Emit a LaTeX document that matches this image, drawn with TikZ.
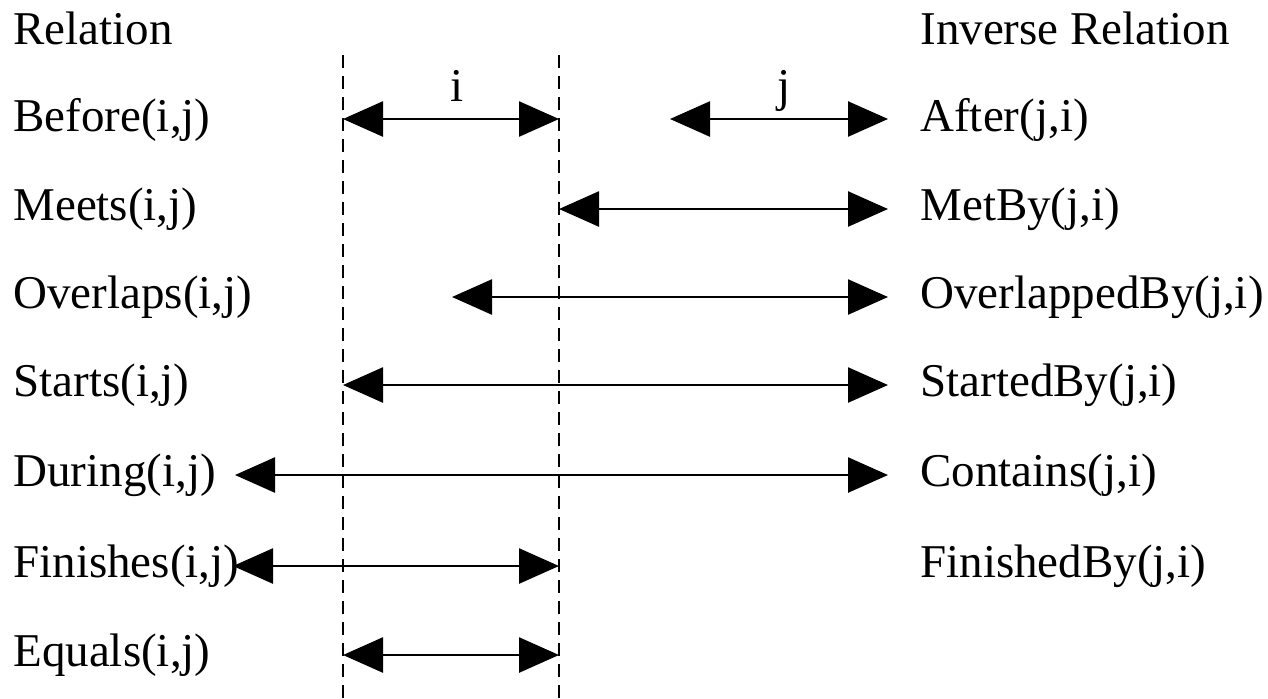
\documentclass[tikz,border=0pt]{standalone}
\usepackage{fontspec}
\setmainfont{Liberation Serif}
\usetikzlibrary{arrows.meta}
\begin{document}
\begin{tikzpicture}[x=0.5pt,y=-0.5pt,
  lbl/.style={anchor=west,inner sep=0pt,font=\fontsize{23.5}{28}\selectfont},
  tag/.style={anchor=base,inner sep=0pt,font=\fontsize{23.5}{28}\selectfont},
  ivl/.style={line width=1.3pt,{Triangle[length=20pt,width=17.5pt]}-{Triangle[length=20pt,width=17.5pt]}},
  guide/.style={line width=1pt,dash pattern=on 6.5pt off 4pt}]
\useasboundingbox (0,0) rectangle (1268,698);
% headers
\node[lbl] (rel) at (13,28) {Relation};
\node[lbl] (inv) at (920,28) {Inverse Relation};
% left labels
\node[lbl] (before) at (13,120) {Before(i,j)};
\node[lbl] (meets) at (13,209) {Meets(i,j)};
\node[lbl] (overlaps) at (13,297) {Overlaps(i,j)};
\node[lbl] (starts) at (13,385) {Starts(i,j)};
\node[lbl] (during) at (13,475) {During(i,j)};
\node[lbl] (finishes) at (13,566) {Finishes(i,j)};
\node[lbl] (equals) at (13,655) {Equals(i,j)};
% right labels
\node[lbl] (after) at (920,120) {After(j,i)};
\node[lbl] (metby) at (920,209) {MetBy(j,i)};
\node[lbl] (overby) at (920,297) {OverlappedBy(j,i)};
\node[lbl] (startedby) at (920,385) {StartedBy(j,i)};
\node[lbl] (contains) at (920,475) {Contains(j,i)};
\node[lbl] (finishedby) at (920,566) {FinishedBy(j,i)};
% guides
\coordinate (g1t) at (343,55); \coordinate (g1b) at (343,698);
\coordinate (g2t) at (559,55); \coordinate (g2b) at (559,698);
\draw[guide] (g1t) -- (g1b);
\draw[guide] (g2t) -- (g2b);
% interval labels
\node[tag] (ilab) at (457,101) {i};
\node[tag] (jlab) at (784,101) {j};
% intervals
\coordinate (bi1) at (343,119); \coordinate (bi2) at (559,119);
\coordinate (bj1) at (670,119); \coordinate (bj2) at (888,119);
\coordinate (m1) at (559,209); \coordinate (m2) at (888,209);
\coordinate (o1) at (452,297); \coordinate (o2) at (888,297);
\coordinate (s1) at (343,385); \coordinate (s2) at (888,385);
\coordinate (d1) at (235,475); \coordinate (d2) at (888,475);
\coordinate (f1) at (233,566); \coordinate (f2) at (559,566);
\coordinate (e1) at (343,655); \coordinate (e2) at (559,655);
\draw[ivl] (bi1) -- (bi2);
\draw[ivl] (bj1) -- (bj2);
\draw[ivl] (m1) -- (m2);
\draw[ivl] (o1) -- (o2);
\draw[ivl] (s1) -- (s2);
\draw[ivl] (d1) -- (d2);
\draw[ivl] (f1) -- (f2);
\draw[ivl] (e1) -- (e2);
\end{tikzpicture}
\end{document}
